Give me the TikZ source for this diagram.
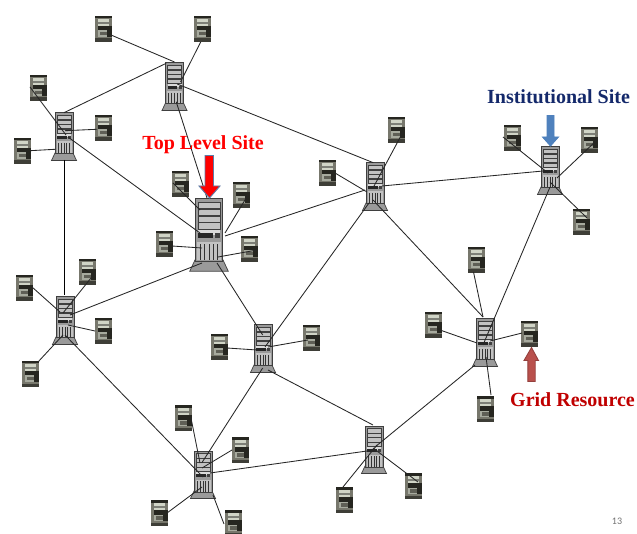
\documentclass[tikz,border=0pt]{standalone}
\usepackage{fontspec}
\setmainfont{Liberation Serif}
\newfontfamily\slidenum{Carlito}
\definecolor{srvbody}{HTML}{9A9A9A}
\definecolor{srvedge}{HTML}{3F3F3F}
\definecolor{srvslot}{HTML}{C2C2C2}
\definecolor{pcdark}{HTML}{262620}
\definecolor{pcmid}{HTML}{77776C}
\definecolor{pclight}{HTML}{D0D4C6}
\definecolor{arrblue}{HTML}{4F81BD}
\definecolor{arrblueedge}{HTML}{5B7DA8}
\definecolor{arrred}{HTML}{FF0000}
\definecolor{arrdark}{HTML}{B9504C}
\definecolor{navy}{HTML}{14296B}
\definecolor{darkred}{HTML}{C00000}
\tikzset{
  wire/.style={draw=black!85,line width=0.85pt},
  trunk/.style={draw=black,line width=1.2pt},
  anchorbox/.style={inner sep=0pt,minimum width=#1,minimum height=#1,outer sep=0pt},
  sitelabel/.style={font=\bfseries\fontsize{20}{22}\selectfont,inner sep=0pt},
  bigarrow/.style={line width=0.9pt,line join=miter},
}
% name, x, y, scale
\newcommand{\srvicon}[4]{%
  \node[anchorbox=4pt] (#1) at (#2,#3) {};
  \begin{scope}[shift={(#2,#3)},scale=#4]
    \fill[srvbody,draw=srvedge,line width=0.7pt] (-9,16) -- (-12.5,23.5) -- (12.5,23.5) -- (9,16) -- cycle;
    \fill[srvbody,draw=srvedge,line width=1pt] (-9,-24) rectangle (9,17);
    \foreach \yy in {-21.5,-17,-12.5,-8}{\fill[srvslot,draw=srvedge,line width=0.4pt] (-7,\yy) rectangle (7,\yy+4.2);}
    \fill[srvslot!60!white] (-7,-3) rectangle (7,0);
    \fill[black!85] (-7,-1) rectangle (2.5,2);
    \fill[black!75] (4,-1) rectangle (7,2);
    \fill[srvslot] (-7.5,4.5) rectangle (7.5,16.5);
    \foreach \xx in {-5.6,-2.8,0,2.8,5.6}{\draw[black!80,line width=0.9pt] (\xx,6) -- (\xx,16.5);}
  \end{scope}}
% name, x, y
\newcommand{\pcicon}[3]{%
  \node[anchorbox=4pt] (#1) at (#2,#3) {};
  \begin{scope}[shift={(#2,#3)}]
    \fill[pcmid] (-8.5,-13) rectangle (8.5,13);
    \fill[pcdark] (-8.5,-13) rectangle (8.5,-10.5);
    \fill[pclight] (-5.5,-10) rectangle (5.5,-6.8);
    \fill[pclight!60!black] (-5.5,-6.8) rectangle (5.5,-5.2);
    \fill[pclight] (-5.5,-5.2) rectangle (5.5,-3);
    \fill[pcdark] (-5.5,-3) rectangle (8.5,1.5);
    \fill[pclight!80!black] (-5.5,1.5) rectangle (4,8);
    \fill[pcmid!80!black] (-3.5,3) rectangle (4,6.5);
    \fill[pcdark] (4,1.5) rectangle (8.5,8);
    \fill[pcdark!70!pcmid] (-8.5,9.5) rectangle (8.5,13);
  \end{scope}}
% connector: node a, offset, node b, offset
\newcommand{\conn}[7][wire]{\draw[#1] ([shift={(#3,#4)}]#2.center) -- ([shift={(#6,#7)}]#5.center);}
\begin{document}
\begin{tikzpicture}[x=1pt,y=-1pt]
\useasboundingbox (0,0) rectangle (637,534);
\fill[white] (0,0) rectangle (637,534);
% servers
\srvicon{sA}{174.5}{87}{1}
\srvicon{sB}{64}{137}{1}
\srvicon{sC}{209}{235}{1.54}
\srvicon{sD}{375}{187}{1}
\srvicon{sE}{550}{171}{1}
\srvicon{sF}{65}{321}{1}
\srvicon{sG}{263}{349}{1}
\srvicon{sH}{485}{343}{1}
\srvicon{sI}{374}{450}{1}
\srvicon{sJ}{203}{475}{1}
% resources
\pcicon{a1}{103}{29}\pcicon{a2}{202}{29}
\pcicon{b1}{38}{88}\pcicon{b2}{103}{128}\pcicon{b3}{22}{151}
\pcicon{c1}{180}{184}\pcicon{c2}{241}{195}\pcicon{c3}{164}{244}\pcicon{c4}{249}{249}
\pcicon{d1}{396}{130}\pcicon{d2}{327}{173}
\pcicon{e1}{512}{138}\pcicon{e2}{589}{140}\pcicon{e3}{581}{222}
\pcicon{f1}{87}{272}\pcicon{f2}{24}{288}\pcicon{f3}{103}{331}\pcicon{f4}{30}{374}
\pcicon{g1}{219}{347}\pcicon{g2}{311}{338}
\pcicon{h1}{476}{260}\pcicon{h2}{433}{325}\pcicon{h3}{529}{334}\pcicon{h4}{485}{409}
\pcicon{i1}{344}{500}\pcicon{i2}{413}{486}
\pcicon{j1}{183}{418}\pcicon{j2}{240}{450}\pcicon{j3}{159}{513}\pcicon{j4}{233}{523}
% backbone
\conn{sA}{-8.3}{-23.7}{sB}{0}{-24.3}
\conn{sA}{1.7}{14.7}{sC}{-2}{-37}
\conn{sA}{2.7}{-3}{sD}{-1.7}{-24.3}
\conn[trunk]{sB}{.3}{23}{sF}{-.7}{-26}
\conn{sB}{4}{0}{sC}{-9}{-2}
\conn{sC}{16}{1}{sD}{-10}{3}
\conn{sC}{-7}{28}{sF}{5}{-6}
\conn{sC}{8}{28}{sG}{-.3}{-14}
\conn{sD}{7}{-1}{sE}{-7}{0}
\conn{sD}{-6}{16}{sG}{2}{-2}
\conn{sD}{-2}{13}{sH}{-2}{-26}
\conn{sE}{0}{16}{sH}{-2}{2}
\conn{sF}{0}{14}{sJ}{0}{2}
\conn{sG}{-.3}{19}{sJ}{-1.3}{-12}
\conn{sG}{5}{21}{sI}{-1}{-25}
\conn{sI}{-7}{1}{sJ}{7}{-2}
\conn{sH}{-10}{22}{sI}{1}{-3}
% leaves
\conn{a1}{8}{6}{sA}{0}{-25}
\conn{a2}{-1.3}{13}{sA}{6}{-5}
\conn{b1}{-8}{-1}{sB}{2}{-2}
\conn{b2}{-6.3}{1.3}{sB}{1}{-6.3}
\conn{b3}{8}{-.3}{sB}{-9}{12.3}
\conn{c1}{-7}{-1}{sC}{-9}{-25}
\conn{c2}{7}{0}{sC}{16}{-2}
\conn{c3}{8}{2}{sC}{-7}{13}
\conn{c4}{8}{1}{sC}{9}{22}
\conn{d1}{7}{2}{sD}{-2}{1}
\conn{d2}{8}{0}{sD}{-8}{5}
\conn{e1}{-9}{-1}{sE}{-2}{2}
\conn{e2}{8}{0}{sE}{7}{7}
\conn{e3}{6}{-4}{sE}{0}{11}
\conn{f1}{8}{1}{sF}{-2}{-8}
\conn{f2}{8}{-1}{sF}{-5}{-9}
\conn{f3}{-8}{0}{sF}{3}{4}
\conn{f4}{8}{-12}{sF}{-2}{14}
\conn{g1}{8}{1}{sG}{-6}{1}
\conn{g2}{-3}{2}{sG}{5}{-2}
\conn{h1}{-2.5}{12}{sH}{-2}{-26}
\conn{h2}{7}{5}{sH}{-8}{0}
\conn{h3}{-7}{-1}{sH}{5}{-2}
\conn{h4}{6}{-14}{sH}{1}{14}
\conn{i1}{-1}{-13}{sI}{3}{-5}
\conn{i2}{5}{-4}{sI}{-1}{-2}
\conn{j1}{8}{0}{sJ}{-3}{-12}
\conn{j2}{-8}{0}{sJ}{-1}{-7}
\conn{j3}{8}{0}{sJ}{-1}{12}
\conn{j4}{-9}{1}{sJ}{10}{20}
% labels
\node[sitelabel,text=arrred] (ltop) at (203,145) {Top Level Site};
\node[sitelabel,text=navy] (linst) at (558.5,97) {Institutional Site};
\node[sitelabel,text=darkred] (lgrid) at (572.5,400) {Grid Resource};
\node[font=\slidenum\fontsize{10}{12}\selectfont,text=black!55,inner sep=0pt] (pagenum) at (617,521) {13};
% arrows
\draw[bigarrow,fill=arrred,draw=arrblueedge] (205,155.5) -- (213.5,155.5) -- (213.5,186) -- (220,186) -- (209.5,198) -- (199,186) -- (205,186) -- cycle;
\draw[bigarrow,fill=arrblue,draw=arrblue] (547,115.5) -- (554,115.5) -- (554,137) -- (558.5,137) -- (550.5,146) -- (542.5,137) -- (547,137) -- cycle;
\draw[bigarrow,fill=arrdark,draw=arrdark!80!black] (527.8,381.5) -- (535.2,381.5) -- (535.2,360.5) -- (538.5,360.5) -- (531.5,347.5) -- (524,360.5) -- (527.8,360.5) -- cycle;
\end{tikzpicture}
\end{document}
